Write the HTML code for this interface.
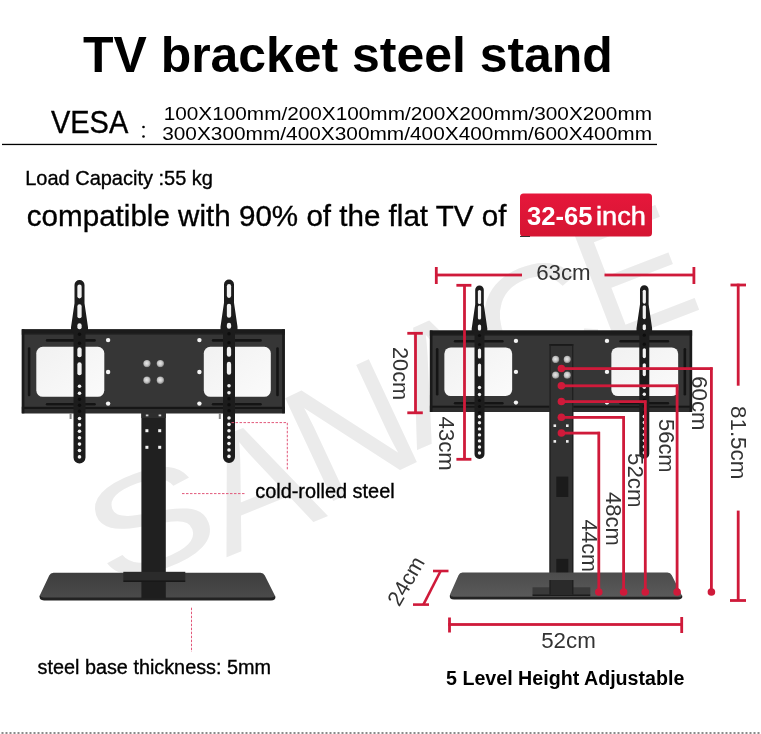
<!DOCTYPE html>
<html><head><meta charset="utf-8"><title>TV bracket steel stand</title>
<style>
html,body{margin:0;padding:0;background:#fff;}
body{width:761px;height:734px;overflow:hidden;position:relative;}
svg{position:absolute;left:0;top:0;display:block;will-change:transform;}
text{font-family:"Liberation Sans",sans-serif;}
</style></head><body>
<svg width="761" height="734" viewBox="0 0 761 734">
<defs>
  <linearGradient id="badge" x1="0" y1="0" x2="0" y2="1">
    <stop offset="0" stop-color="#e6173b"/><stop offset="1" stop-color="#d51532"/>
  </linearGradient>
  <linearGradient id="win" x1="0" y1="0" x2="1" y2="1">
    <stop offset="0" stop-color="#f1f1f1"/><stop offset="1" stop-color="#fbfbfb"/>
  </linearGradient>
  <linearGradient id="baseTopL" x1="0" y1="0" x2="0" y2="1">
    <stop offset="0" stop-color="#3e3e3e"/><stop offset="1" stop-color="#4a4a4a"/>
  </linearGradient>
  <linearGradient id="baseTopR" x1="0" y1="0" x2="0" y2="1">
    <stop offset="0" stop-color="#4c4c4c"/><stop offset="1" stop-color="#5a5a5a"/>
  </linearGradient>
  <radialGradient id="bolt" cx="0.45" cy="0.45" r="0.6">
    <stop offset="0" stop-color="#e8e8e8"/><stop offset="0.55" stop-color="#c4c4c4"/><stop offset="0.85" stop-color="#8c8c8c"/><stop offset="1" stop-color="#555"/>
  </radialGradient>
  <g id="plate">
    <rect x="0" y="0" width="263" height="84" fill="#363636"/>
    <rect x="0" y="0" width="263" height="4.5" fill="#1b1b1b"/>
    <rect x="0" y="4.5" width="263" height="1" fill="#262626"/>
    <rect x="0" y="77.5" width="263" height="2.2" fill="#161616"/>
    <rect x="0" y="79.7" width="263" height="4.3" fill="#2d2d2d"/>
    <rect x="0" y="0" width="2.6" height="84" fill="#1a1a1a"/>
    <rect x="260.4" y="0" width="2.6" height="84" fill="#1a1a1a"/>
    <rect x="14.5" y="17.5" width="68" height="50" rx="6.5" fill="url(#win)"/>
    <rect x="182" y="17.5" width="67" height="50" rx="6.5" fill="url(#win)"/>
    <rect x="24" y="9.8" width="50" height="2.6" rx="1.3" fill="#141414"/>
    <rect x="24" y="73.6" width="50" height="2.6" rx="1.3" fill="#141414"/>
    <rect x="190" y="9.8" width="50" height="2.6" rx="1.3" fill="#141414"/>
    <rect x="190" y="73.6" width="50" height="2.6" rx="1.3" fill="#141414"/>
    <rect x="6" y="18" width="2.6" height="49" rx="1.3" fill="#141414"/>
    <rect x="254.4" y="18" width="2.6" height="49" rx="1.3" fill="#141414"/>
    <circle cx="86.3" cy="10.8" r="2.2" fill="#f4f4f4"/>
    <circle cx="86.3" cy="42.7" r="2.2" fill="#f4f4f4"/>
    <circle cx="86.3" cy="74.3" r="2.2" fill="#f4f4f4"/>
    <circle cx="177.6" cy="10.8" r="2.2" fill="#f4f4f4"/>
    <circle cx="177.6" cy="42.7" r="2.2" fill="#f4f4f4"/>
    <circle cx="177.6" cy="74.3" r="2.2" fill="#f4f4f4"/>
  </g>
<g id="armL">
<path d="M-5,5 A5,5 0 0 1 5,5 L5,23.299999999999997 L8.5,47.3 L8.5,50.3 L6,53.3 L6,177.5 A6,6 0 0 1 -6,177.5 L-6,53.3 L-8.5,50.3 L-8.5,47.3 L-5,23.299999999999997 Z" fill="#1c1c1c"/>
<rect x="-2.15" y="4.5" width="4.3" height="14" rx="2.15" fill="#f2f2f2"/>
<rect x="-2.15" y="24.299999999999997" width="4.3" height="14" rx="2.15" fill="#f2f2f2"/>
<rect x="-2.15" y="43.3" width="4.3" height="6" rx="2.15" fill="#f2f2f2"/>
<circle cx="0" cy="54.3" r="1.71" fill="#0d0d0d"/>
<circle cx="0" cy="63.3" r="1.71" fill="#0d0d0d"/>
<rect x="-2.15" y="67.3" width="4.3" height="10" rx="2.15" fill="#f2f2f2"/>
<rect x="-2.15" y="82.3" width="4.3" height="13" rx="2.15" fill="#f2f2f2"/>
<circle cx="0" cy="106.3" r="1.8" fill="#f2f2f2"/>
<circle cx="0" cy="113.3" r="1.8" fill="#f2f2f2"/>
<circle cx="0" cy="119.3" r="1.71" fill="#0d0d0d"/>
<circle cx="0" cy="125.3" r="1.71" fill="#0d0d0d"/>
<circle cx="0" cy="131.3" r="1.71" fill="#0d0d0d"/>
<circle cx="0" cy="138.5" r="1.8" fill="#f2f2f2"/>
<circle cx="0" cy="144.9" r="1.8" fill="#f2f2f2"/>
<circle cx="0" cy="151.3" r="1.8" fill="#f2f2f2"/>
<circle cx="0" cy="157.7" r="1.8" fill="#f2f2f2"/>
<circle cx="0" cy="164.1" r="1.8" fill="#f2f2f2"/>
<circle cx="0" cy="170.5" r="1.8" fill="#f2f2f2"/>
<circle cx="0" cy="176.9" r="1.8" fill="#f2f2f2"/>
</g>
<g id="armR">
<path d="M-4.3,4.3 A4.3,4.3 0 0 1 4.3,4.3 L4.3,19 L7.8,43 L7.8,46 L5,49 L5,168.5 A5,5 0 0 1 -5,168.5 L-5,49 L-7.8,46 L-7.8,43 L-4.3,19 Z" fill="#1c1c1c"/>
<rect x="-1.6" y="4.5" width="3.2" height="14" rx="1.6" fill="#f2f2f2"/>
<rect x="-1.6" y="20" width="3.2" height="14" rx="1.6" fill="#f2f2f2"/>
<rect x="-1.6" y="39" width="3.2" height="6" rx="1.6" fill="#f2f2f2"/>
<circle cx="0" cy="50" r="1.615" fill="#0d0d0d"/>
<circle cx="0" cy="59" r="1.615" fill="#0d0d0d"/>
<rect x="-1.6" y="63" width="3.2" height="10" rx="1.6" fill="#f2f2f2"/>
<rect x="-1.6" y="78" width="3.2" height="13" rx="1.6" fill="#f2f2f2"/>
<circle cx="0" cy="102" r="1.7" fill="#f2f2f2"/>
<circle cx="0" cy="109" r="1.7" fill="#f2f2f2"/>
<circle cx="0" cy="115" r="1.615" fill="#0d0d0d"/>
<circle cx="0" cy="121" r="1.615" fill="#0d0d0d"/>
<circle cx="0" cy="127" r="1.615" fill="#0d0d0d"/>
<circle cx="0" cy="131.3" r="1.7" fill="#f2f2f2"/>
<circle cx="0" cy="137.3" r="1.7" fill="#f2f2f2"/>
<circle cx="0" cy="143.4" r="1.7" fill="#f2f2f2"/>
<circle cx="0" cy="149.4" r="1.7" fill="#f2f2f2"/>
<circle cx="0" cy="155.4" r="1.7" fill="#f2f2f2"/>
<circle cx="0" cy="161.5" r="1.7" fill="#f2f2f2"/>
<circle cx="0" cy="167.5" r="1.7" fill="#f2f2f2"/>
</g>
</defs>

<g fill="#ebebeb" font-size="165" text-anchor="middle">
  <text x="0" y="56.8" transform="translate(150,521) rotate(-20) scale(1.15,0.85)">S</text>
  <text x="0" y="56.8" transform="translate(256,484) rotate(-22)">A</text>
  <text x="0" y="56.8" transform="translate(351,430) rotate(-25)">N</text>
  <text x="0" y="56.8" transform="translate(444,376) rotate(-24)">A</text>
  <text x="0" y="56.8" transform="translate(538,324) rotate(-23)">C</text>
  <text x="0" y="56.8" transform="translate(634,274) rotate(-21)">E</text>
</g>

<rect x="2" y="143.8" width="655" height="1.3" fill="#000"/>
<circle cx="143.5" cy="127" r="1.3" fill="#000"/>
<circle cx="143.5" cy="136.5" r="1.3" fill="#000"/>
<rect x="520" y="193.5" width="132" height="43" rx="3.5" fill="url(#badge)"/>
<rect x="520" y="236" width="10" height="1" fill="#333"/>
<!-- ===== LEFT STAND ===== -->
<rect x="141.4" y="405" width="24.4" height="193" fill="#202020"/>
<rect x="141.4" y="413" width="24.4" height="5" fill="#2e2e2e"/>
<rect x="145.8" y="414.5" width="2.6" height="1.8" fill="#d0d0d0"/>
<rect x="158.6" y="414.5" width="2.6" height="1.8" fill="#d0d0d0"/>
<rect x="145.4" y="429.2" width="3" height="3" fill="#f4f4f4"/>
<rect x="158.2" y="429.2" width="3" height="3" fill="#f4f4f4"/>
<rect x="145.4" y="445.8" width="3" height="3" fill="#f4f4f4"/>
<rect x="158.2" y="445.8" width="3" height="3" fill="#f4f4f4"/>
<use href="#plate" x="21.8" y="329.3"/>
<circle cx="147" cy="363.6" r="3.7" fill="url(#bolt)"/>
<circle cx="160.4" cy="363.6" r="3.7" fill="url(#bolt)"/>
<circle cx="147" cy="380.2" r="3.7" fill="url(#bolt)"/>
<circle cx="160.4" cy="380.2" r="3.7" fill="url(#bolt)"/>
<use href="#armL" x="79.5" y="280"/>
<use href="#armL" x="229" y="279.5"/>
<rect x="69.6" y="413" width="2" height="6" fill="#888"/>
<rect x="218.8" y="413" width="2" height="6" fill="#888"/>
<!-- base -->
<path d="M53.5,572.8 L260.5,572.8 Q263.5,572.8 264.8,575.5 L274.6,595 Q275.8,598 272.5,598 L42,598 Q38.7,598 40,595 L49.2,575.5 Q50.5,572.8 53.5,572.8 Z" fill="url(#baseTopL)"/>
<path d="M39.8,595.6 Q41,597.6 43.5,597.6 L271.5,597.6 Q274.5,597.6 275,595.6 Q276,598.5 274.5,599.5 Q273.3,600.4 271,600.4 L44,600.4 Q41.5,600.4 40.4,599.3 Q39.3,598 39.8,595.6 Z" fill="#222"/>
<rect x="123.3" y="571.8" width="62" height="8.5" fill="#2b2b2b"/>
<rect x="123.3" y="580.3" width="62" height="1.6" fill="#151515"/>
<rect x="141.4" y="581.9" width="24.4" height="16.5" fill="#1e1e1e"/>

<!-- dashed leaders (left) -->
<g stroke="#e2587a" stroke-width="1" stroke-dasharray="2.5,1.5" fill="none">
  <path d="M231.5,422.6 H287.3 V470"/>
  <path d="M182,493.6 H246"/>
  <path d="M191.5,607.7 V652"/>
</g>
<!-- ===== RIGHT STAND ===== -->
<use href="#plate" transform="translate(429.9,330.5) scale(0.997,0.97)"/>
<!-- column -->
<rect x="549.5" y="344" width="23.8" height="249" fill="#323232"/>
<rect x="549.5" y="344" width="23.8" height="1.8" fill="#1a1a1a"/>
<rect x="549.5" y="344" width="1.2" height="249" fill="#1e1e1e"/>
<rect x="572.1" y="344" width="1.2" height="249" fill="#1e1e1e"/>
<rect x="556.3" y="476.6" width="12" height="20.4" fill="#1b1b1b"/>
<rect x="556.3" y="558.9" width="12" height="20" fill="#1b1b1b"/>
<circle cx="555.7" cy="359.4" r="3.6" fill="url(#bolt)"/>
<circle cx="567.3" cy="359.4" r="3.6" fill="url(#bolt)"/>
<circle cx="555.7" cy="375.2" r="3.6" fill="url(#bolt)"/>
<circle cx="567.3" cy="375.2" r="3.6" fill="url(#bolt)"/>
<rect x="553.5" y="424.4" width="2.6" height="2.6" fill="#f0f0f0"/>
<rect x="566" y="424.4" width="2.6" height="2.6" fill="#f0f0f0"/>
<rect x="553.5" y="440.1" width="2.6" height="2.6" fill="#f0f0f0"/>
<rect x="566" y="440.1" width="2.6" height="2.6" fill="#f0f0f0"/>
<!-- arms -->
<use href="#armR" x="479.5" y="285.5"/>
<use href="#armR" x="644.3" y="285.2"/>
<!-- base -->
<path d="M462.5,572.5 L667.5,572.5 Q670.5,572.5 671.8,575.2 L681.2,594 Q682.4,597 679,597 L452.5,597 Q449.2,597 450.2,594 L458.5,575.2 Q459.6,572.5 462.5,572.5 Z" fill="url(#baseTopR)"/>
<path d="M450,594.8 Q451.2,596.8 453.5,596.8 L678.5,596.8 Q681.4,596.8 681.8,594.8 Q683,597.6 681.4,598.6 Q680.2,599.5 678,599.5 L454,599.5 Q451.5,599.5 450.5,598.5 Q449.4,597.2 450,594.8 Z" fill="#242424"/>
<rect x="532.5" y="587.3" width="57.8" height="7" fill="#3a3a3a"/>
<rect x="532.5" y="594.3" width="57.8" height="1.8" fill="#1c1c1c"/>
<rect x="549.5" y="580" width="23.8" height="14.5" fill="#2a2a2a"/>
<rect x="549.5" y="580" width="1.2" height="14.5" fill="#1e1e1e"/>
<rect x="572.1" y="580" width="1.2" height="14.5" fill="#1e1e1e"/>

<!-- ===== RED DIMENSIONS ===== -->
<g fill="#cf1a3a">
  <!-- 63cm -->
  <rect x="434.9" y="267" width="2.8" height="17"/>
  <rect x="435" y="273.6" width="87" height="2.8"/>
  <rect x="604.5" y="273.6" width="90.5" height="2.8"/>
  <rect x="692.5" y="267" width="2.8" height="17"/>
  <!-- 43cm -->
  <rect x="456.4" y="283.9" width="15" height="2.8"/>
  <rect x="463.1" y="284" width="2.8" height="176"/>
  <rect x="456.4" y="457.9" width="15" height="2.8"/>
  <!-- 20cm -->
  <rect x="407.3" y="331.9" width="15.5" height="2.8"/>
  <rect x="414.1" y="332" width="2.8" height="81"/>
  <rect x="407.3" y="411.4" width="15.5" height="2.8"/>
  <!-- 81.5cm -->
  <rect x="730.5" y="283.6" width="15.5" height="2.8"/>
  <rect x="736.8" y="283.7" width="2.8" height="102"/>
  <rect x="736.8" y="510.6" width="2.8" height="90"/>
  <rect x="730" y="599.1" width="16" height="2.8"/>
  <!-- 52cm -->
  <rect x="448.1" y="617.5" width="2.8" height="15"/>
  <rect x="448.2" y="623.1" width="233" height="2.8"/>
  <rect x="680.3" y="617" width="2.8" height="16"/>
  <!-- 5 level lines -->
  <rect x="561" y="367.2" width="151.6" height="2.8"/>
  <rect x="710" y="367.3" width="2.8" height="225"/>
  <rect x="561" y="384.4" width="117.3" height="2.8"/>
  <rect x="675.7" y="384.5" width="2.8" height="208"/>
  <rect x="561" y="400.2" width="85.4" height="2.8"/>
  <rect x="643.9" y="400.3" width="2.8" height="192"/>
  <rect x="561" y="416" width="63.7" height="2.8"/>
  <rect x="622.2" y="416.1" width="2.8" height="176"/>
  <rect x="561" y="431.7" width="38.9" height="2.8"/>
  <rect x="597.4" y="431.8" width="2.8" height="160"/>
  <circle cx="561.4" cy="368.5" r="3.8"/>
  <circle cx="561.4" cy="385.7" r="3.8"/>
  <circle cx="561.4" cy="401.5" r="3.8"/>
  <circle cx="561.4" cy="417.3" r="3.8"/>
  <circle cx="561.4" cy="433" r="3.8"/>
  <circle cx="598.8" cy="592" r="3.8"/>
  <circle cx="623.6" cy="592" r="3.8"/>
  <circle cx="645.3" cy="592" r="3.8"/>
  <circle cx="677.1" cy="592" r="3.8"/>
  <circle cx="711.4" cy="592" r="3.8"/>
</g>
<!-- 24cm -->
<g stroke="#cf1a3a" stroke-width="2.6" fill="none">
  <path d="M433,571 H448.5"/>
  <path d="M440.6,571 L423.4,604.6"/>
  <path d="M413,604.6 H429"/>
</g>
<line x1="0" y1="733" x2="761" y2="733" stroke="#8a8a8a" stroke-width="2" stroke-dasharray="2,2" stroke-dashoffset="2.5"/>
<text x="83.00" y="72.30" font-size="49.60" fill="#000" font-weight="bold" textLength="529.80" lengthAdjust="spacingAndGlyphs">TV bracket steel stand</text>
<text x="50.90" y="132.80" font-size="31.00" fill="#000" stroke="#000" stroke-width="0.35" textLength="77.40" lengthAdjust="spacingAndGlyphs">VESA</text>
<text x="163.70" y="119.50" font-size="18.60" fill="#000" textLength="488.30" lengthAdjust="spacingAndGlyphs">100X100mm/200X100mm/200X200mm/300X200mm</text>
<text x="162.20" y="139.50" font-size="18.60" fill="#000" textLength="489.80" lengthAdjust="spacingAndGlyphs">300X300mm/400X300mm/400X400mm/600X400mm</text>
<text x="25.20" y="184.70" font-size="19.80" fill="#000" stroke="#000" stroke-width="0.35" textLength="187.80" lengthAdjust="spacingAndGlyphs">Load Capacity :55 kg</text>
<text x="26.80" y="225.60" font-size="29.50" fill="#000" stroke="#000" stroke-width="0.35" textLength="479.70" lengthAdjust="spacingAndGlyphs">compatible with 90% of the flat TV of</text>
<text x="526.90" y="225.00" font-size="25.00" fill="#fff" font-weight="bold" textLength="65.60" lengthAdjust="spacingAndGlyphs">32-65</text>
<text x="596.00" y="225.00" font-size="26.00" fill="#fff" stroke="#fff" stroke-width="0.5" textLength="50.00" lengthAdjust="spacingAndGlyphs">inch</text>
<text x="255.20" y="497.60" font-size="19.60" fill="#000" stroke="#000" stroke-width="0.35" textLength="139.50" lengthAdjust="spacingAndGlyphs">cold-rolled steel</text>
<text x="37.60" y="674.40" font-size="19.60" fill="#000" stroke="#000" stroke-width="0.35" textLength="233.40" lengthAdjust="spacingAndGlyphs">steel base thickness: 5mm</text>
<text x="446.00" y="685.20" font-size="19.60" fill="#000" font-weight="bold" textLength="238.40" lengthAdjust="spacingAndGlyphs">5 Level Height Adjustable</text>
<text x="536.20" y="279.90" font-size="21.60" fill="#333" textLength="54.50" lengthAdjust="spacingAndGlyphs">63cm</text>
<text x="541.20" y="648.00" font-size="21.60" fill="#333" textLength="54.60" lengthAdjust="spacingAndGlyphs">52cm</text>
<text transform="translate(393.40,346.90) rotate(90)" x="0" y="0" font-size="21.60" fill="#333" textLength="53.40" lengthAdjust="spacingAndGlyphs">20cm</text>
<text transform="translate(438.60,416.60) rotate(90)" x="0" y="0" font-size="21.60" fill="#333" textLength="54.00" lengthAdjust="spacingAndGlyphs">43cm</text>
<text transform="translate(692.30,376.30) rotate(90)" x="0" y="0" font-size="21.60" fill="#333" textLength="54.10" lengthAdjust="spacingAndGlyphs">60cm</text>
<text transform="translate(658.60,419.00) rotate(90)" x="0" y="0" font-size="21.60" fill="#333" textLength="53.60" lengthAdjust="spacingAndGlyphs">56cm</text>
<text transform="translate(628.20,453.00) rotate(90)" x="0" y="0" font-size="21.60" fill="#333" textLength="54.50" lengthAdjust="spacingAndGlyphs">52cm</text>
<text transform="translate(606.00,492.10) rotate(90)" x="0" y="0" font-size="21.60" fill="#333" textLength="53.70" lengthAdjust="spacingAndGlyphs">48cm</text>
<text transform="translate(582.10,519.40) rotate(90)" x="0" y="0" font-size="21.60" fill="#333" textLength="52.60" lengthAdjust="spacingAndGlyphs">44cm</text>
<text transform="translate(730.70,406.00) rotate(90)" x="0" y="0" font-size="21.60" fill="#333" textLength="73.40" lengthAdjust="spacingAndGlyphs">81.5cm</text>
<text transform="translate(399.30,607.50) rotate(-60)" x="0" y="0" font-size="21.60" fill="#333" textLength="52.50" lengthAdjust="spacingAndGlyphs">24cm</text>
</svg>
</body></html>
